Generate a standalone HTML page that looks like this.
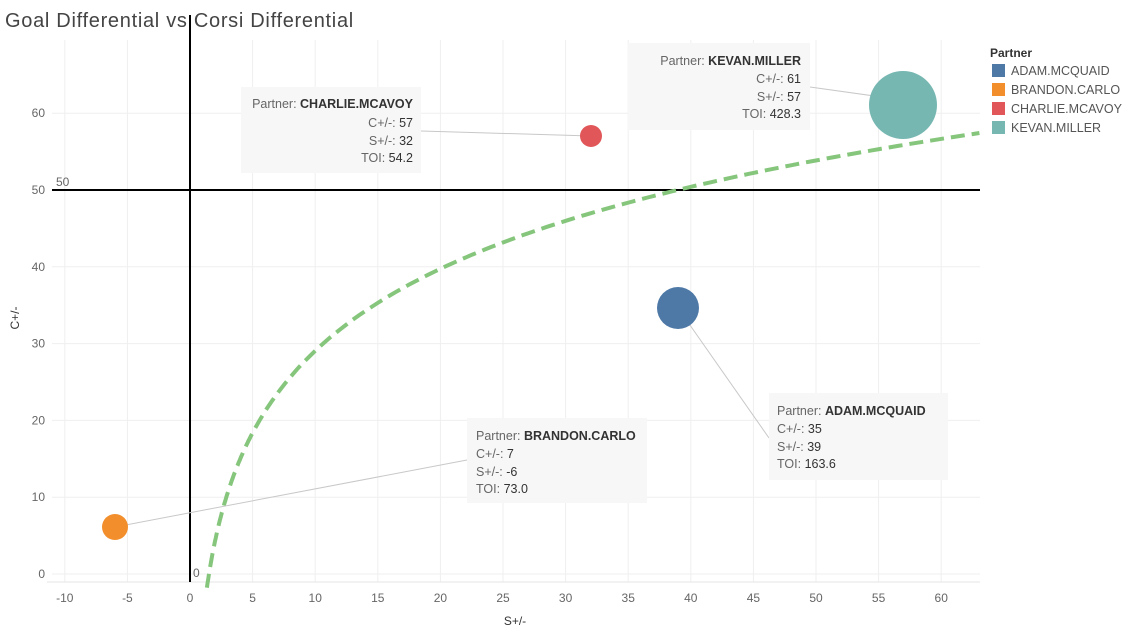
<!DOCTYPE html>
<html><head><meta charset="utf-8"><style>
body{margin:0;background:#fff;width:1129px;height:637px;overflow:hidden;font-family:"Liberation Sans",sans-serif}
</style></head><body>
<svg width="1129" height="637" xmlns="http://www.w3.org/2000/svg" font-family="Liberation Sans, sans-serif">
<text x="5" y="27" font-size="20" fill="#444" letter-spacing="0.7">Goal Differential vs Corsi Differential</text>
<g stroke="#efefef" stroke-width="1" id="grid"></g>
<line x1="47" y1="582" x2="980" y2="582" stroke="#e6e6e6"/>
<g font-size="12" fill="#666" id="ticks"></g>
<line x1="190" y1="15" x2="190" y2="582" stroke="#000" stroke-width="2"/>
<line x1="52" y1="190" x2="980" y2="190" stroke="#000" stroke-width="2"/>
<text x="56" y="186" font-size="12" fill="#666">50</text>
<text x="193" y="577" font-size="12" fill="#666">0</text>
<path id="curve" fill="none" stroke="#86c67c" stroke-width="4" stroke-dasharray="14,7"/>
<g stroke="#c8c8c8" stroke-width="1">
<line x1="421" y1="131" x2="591" y2="136"/>
<line x1="810" y1="87" x2="903" y2="100"/>
<line x1="467" y1="460" x2="115" y2="527"/>
<line x1="769" y1="438" x2="678" y2="308"/>
</g>
<circle cx="903" cy="105" r="34" fill="#76b7b2"/>
<circle cx="678" cy="308" r="21" fill="#4e79a7"/>
<circle cx="591" cy="136" r="11" fill="#e15759"/>
<circle cx="115" cy="527" r="13" fill="#f28e2b"/>
<g font-size="12.5" fill="#666">
<rect x="241" y="87" width="180" height="86" fill="#f7f7f7"/>
<text x="413" y="108" text-anchor="end">Partner: <tspan fill="#333" font-weight="bold">CHARLIE.MCAVOY</tspan></text>
<text x="413" y="127" text-anchor="end">C+/-: <tspan fill="#333">57</tspan></text>
<text x="413" y="145" text-anchor="end">S+/-: <tspan fill="#333">32</tspan></text>
<text x="413" y="162" text-anchor="end">TOI: <tspan fill="#333">54.2</tspan></text>
<rect x="628" y="43" width="182" height="87" fill="#f7f7f7"/>
<text x="801" y="65" text-anchor="end">Partner: <tspan fill="#333" font-weight="bold">KEVAN.MILLER</tspan></text>
<text x="801" y="83" text-anchor="end">C+/-: <tspan fill="#333">61</tspan></text>
<text x="801" y="101" text-anchor="end">S+/-: <tspan fill="#333">57</tspan></text>
<text x="801" y="118" text-anchor="end">TOI: <tspan fill="#333">428.3</tspan></text>
<rect x="467" y="418" width="180" height="85" fill="#f7f7f7"/>
<text x="476" y="440">Partner: <tspan fill="#333" font-weight="bold">BRANDON.CARLO</tspan></text>
<text x="476" y="458">C+/-: <tspan fill="#333">7</tspan></text>
<text x="476" y="476">S+/-: <tspan fill="#333">-6</tspan></text>
<text x="476" y="493">TOI: <tspan fill="#333">73.0</tspan></text>
<rect x="769" y="393" width="179" height="87" fill="#f7f7f7"/>
<text x="777" y="415">Partner: <tspan fill="#333" font-weight="bold">ADAM.MCQUAID</tspan></text>
<text x="777" y="433">C+/-: <tspan fill="#333">35</tspan></text>
<text x="777" y="451">S+/-: <tspan fill="#333">39</tspan></text>
<text x="777" y="468">TOI: <tspan fill="#333">163.6</tspan></text>
</g>
<text x="515" y="625" font-size="12" fill="#333" text-anchor="middle">S+/-</text>
<text transform="translate(19,318) rotate(-90)" font-size="12" fill="#333" text-anchor="middle">C+/-</text>
<text x="990" y="57" font-size="12" fill="#333" font-weight="bold">Partner</text>
<g font-size="12.5" fill="#555">
<rect x="992" y="64" width="13" height="13" fill="#4e79a7"/><text x="1011" y="75">ADAM.MCQUAID</text>
<rect x="992" y="83" width="13" height="13" fill="#f28e2b"/><text x="1011" y="94">BRANDON.CARLO</text>
<rect x="992" y="102" width="13" height="13" fill="#e15759"/><text x="1011" y="113">CHARLIE.MCAVOY</text>
<rect x="992" y="121" width="13" height="13" fill="#76b7b2"/><text x="1011" y="132">KEVAN.MILLER</text>
</g>
</svg>
<script>
var NS="http://www.w3.org/2000/svg";
function X(v){return 190+v*12.52}function Y(v){return 574-v*7.68}
var g=document.getElementById('grid'),t=document.getElementById('ticks');
for(var v=-10;v<=60;v+=5){var l=document.createElementNS(NS,'line');l.setAttribute('x1',X(v));l.setAttribute('x2',X(v));l.setAttribute('y1',40);l.setAttribute('y2',582);g.appendChild(l);
var s=document.createElementNS(NS,'text');s.setAttribute('x',X(v));s.setAttribute('y',602);s.setAttribute('text-anchor','middle');s.textContent=v;t.appendChild(s);}
for(var v=0;v<=60;v+=10){var l=document.createElementNS(NS,'line');l.setAttribute('x1',52);l.setAttribute('x2',980);l.setAttribute('y1',Y(v));l.setAttribute('y2',Y(v));g.appendChild(l);
var s=document.createElementNS(NS,'text');s.setAttribute('x',45);s.setAttribute('y',Y(v)+4);s.setAttribute('text-anchor','end');s.textContent=v;t.appendChild(s);}
var d='';for(var x=1.3;x<=63.1;x+=(x<5?0.05:0.5)){var y=-6.4+15.4*Math.log(x);var py=Y(y);if(py>590)continue;d+=(d?'L':'M')+X(x).toFixed(1)+','+py.toFixed(1);}
document.getElementById('curve').setAttribute('d',d);
</script>
</body></html>
